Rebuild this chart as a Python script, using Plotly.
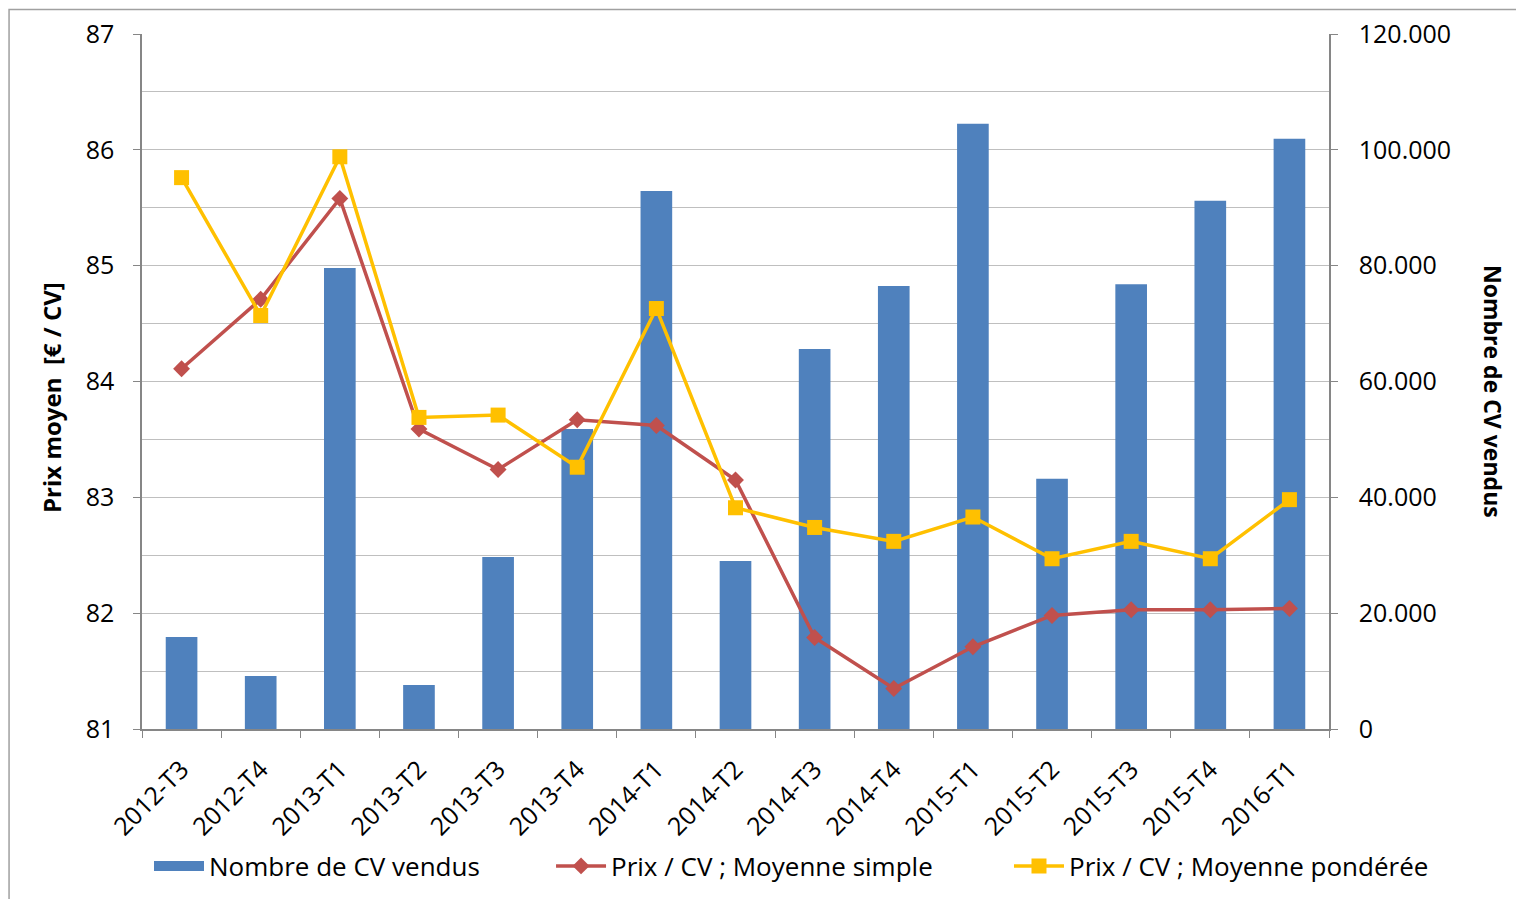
import plotly.graph_objects as go

categories = ["2012-T3", "2012-T4", "2013-T1", "2013-T2", "2013-T3", "2013-T4", "2014-T1", "2014-T2",
              "2014-T3", "2014-T4", "2015-T1", "2015-T2", "2015-T3", "2015-T4", "2016-T1"]
nombre_cv = [15900, 9150, 79600, 7600, 29700, 51800, 92900, 29000,
             65600, 76500, 104500, 43200, 76800, 91200, 101900]
prix_simple = [84.11, 84.71, 85.58, 83.59, 83.24, 83.67, 83.62, 83.15,
               81.79, 81.35, 81.71, 81.98, 82.03, 82.03, 82.04]
prix_pondere = [85.76, 84.57, 85.94, 83.69, 83.71, 83.26, 84.63, 82.91,
                82.74, 82.62, 82.83, 82.47, 82.62, 82.47, 82.98]

FONT = "Open Sans"
AXIS_COL = "#868686"
GRID_COL = "#BFBFBF"
BLUE = "#4F81BD"
RED = "#C0504D"
YELLOW = "#FFC000"

W, H = 1508, 891

fig = go.Figure()
fig.add_trace(go.Bar(
    x=categories, y=nombre_cv, name="Nombre de CV vendus",
    marker=dict(color=BLUE, line=dict(width=0)), width=0.4, yaxis="y", showlegend=False,
))
# legend proxy for the bars (wide rectangle like the original)
fig.add_trace(go.Scatter(
    x=[None], y=[None], name="Nombre de CV vendus", mode="lines",
    line=dict(color=BLUE, width=17), yaxis="y", legend="legend",
))
fig.add_trace(go.Scatter(
    x=categories, y=prix_simple, name="Prix / CV ; Moyenne simple", yaxis="y2",
    mode="lines+markers", line=dict(color=RED, width=3.5),
    marker=dict(symbol="diamond", size=13, color=RED), legend="legend2",
))
fig.add_trace(go.Scatter(
    x=categories, y=prix_pondere, name="Prix / CV ; Moyenne pondérée", yaxis="y2",
    mode="lines+markers", line=dict(color=YELLOW, width=3.5),
    marker=dict(symbol="square", size=15, color=YELLOW), legend="legend3",
))

leg_y = 1 - (866 - 8) / H
leg_common = dict(orientation="h", xanchor="left", yref="container", y=leg_y, yanchor="middle",
                  font=dict(size=26), itemwidth=50, bgcolor="rgba(0,0,0,0)")

fig.update_layout(
    width=W, height=H,
    margin=dict(l=134, r=187, t=26, b=170, autoexpand=False),
    paper_bgcolor="white", plot_bgcolor="white",
    font=dict(family=FONT, size=25, color="black"),
    showlegend=True,
    legend=dict(x=0.0059, **leg_common),
    legend2=dict(x=0.3446, **leg_common),
    legend3=dict(x=0.7304, **leg_common),
    xaxis=dict(
        type="category", tickangle=-45, tickson="boundaries", ticks="outside", ticklen=7,
        tickcolor=AXIS_COL, showline=True, linecolor=AXIS_COL, linewidth=1.5, automargin=False,
        showgrid=False, tickfont=dict(size=25), range=[-0.5, 14.5], ticklabelstandoff=14,
    ),
    yaxis=dict(
        side="right", range=[0, 120000], tickvals=[0, 20000, 40000, 60000, 80000, 100000, 120000],
        ticktext=["0", "20.000", "40.000", "60.000", "80.000", "100.000", "120.000"],
        ticks="outside", ticklen=7, tickcolor=AXIS_COL, showline=True, linecolor=AXIS_COL, linewidth=1.5,
        showgrid=True, gridcolor=GRID_COL, gridwidth=1.3, automargin=False,
        minor=dict(dtick=10000, showgrid=True, gridcolor=GRID_COL, gridwidth=1.3, tick0=0),
        ticklabelstandoff=16, zeroline=False, tickfont=dict(size=25),
    ),
    yaxis2=dict(
        overlaying="y", side="left", range=[81, 87], dtick=1, tick0=81, automargin=False,
        ticks="outside", ticklen=7, tickcolor=AXIS_COL, showline=True, linecolor=AXIS_COL, linewidth=1.5,
        showgrid=False, zeroline=False, ticklabelstandoff=14, tickfont=dict(size=25),
    ),
)

# axis titles (placed as in the original, slightly below the vertical centre)
fig.add_annotation(text="<b>Prix moyen  [€ / CV]</b>", textangle=-90, showarrow=False,
                   xref="paper", yref="paper", x=(52 - 142) / 1187, y=(729 - 398) / 695,
                   xanchor="center", yanchor="middle", font=dict(size=24))
fig.add_annotation(text="<b>Nombre de CV vendus</b>", textangle=90, showarrow=False,
                   xref="paper", yref="paper", x=(1493 - 142) / 1187, y=(729 - 391) / 695,
                   xanchor="center", yanchor="middle", font=dict(size=23))

# chart frame
fig.add_shape(type="rect", xref="paper", yref="paper",
              x0=-0.112, x1=1.3, y0=-0.3, y1=(729 - 9.5) / 695,
              line=dict(color="#A0A0A0", width=1.5), fillcolor="rgba(0,0,0,0)", layer="below")

fig.write_html("out.html")
